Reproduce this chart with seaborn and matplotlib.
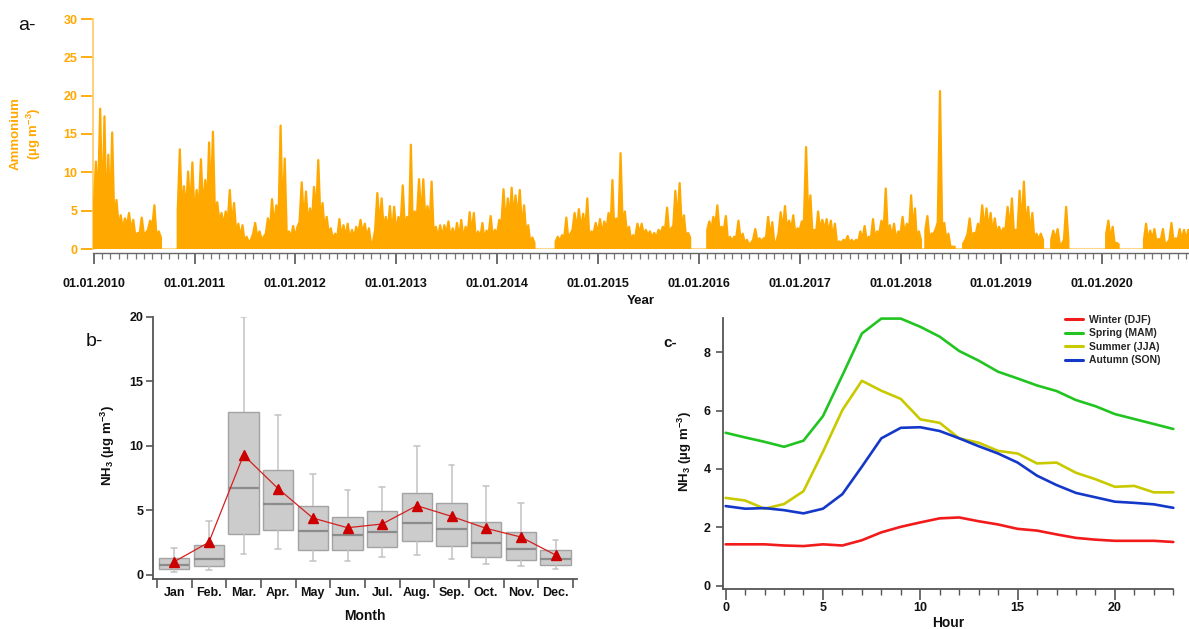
import numpy as np
import pandas as pd
import matplotlib
matplotlib.use("Agg")
import matplotlib.pyplot as plt
import matplotlib.dates as mdates
from matplotlib.ticker import MultipleLocator, FixedLocator, NullFormatter, FixedFormatter
from matplotlib.lines import Line2D
import seaborn as sns

sns.set_theme(style="ticks")
plt.rcParams["font.family"] = ["Liberation Sans", "DejaVu Sans"]
plt.rcParams["mathtext.fontset"] = "custom"
plt.rcParams["mathtext.rm"] = "Liberation Sans:bold"
plt.rcParams["mathtext.it"] = "Liberation Sans:bold"
plt.rcParams["mathtext.bf"] = "Liberation Sans:bold"
plt.rcParams["mathtext.default"] = "rm"

nan = np.nan

# ---------------- (a) ammonium, half-month windows (1st-15th, 16th-end) ----------------
# peak = highest value in the window, band = top of the dense part of the record
years = list(range(2010, 2021))
peak_2010 = [11.4, 18.3, 17.3, 12.3, 15.2, 6.4, 4.4, 4.0, 4.7, 3.8, 2.1, 4.1,
             2.1, 3.7, 5.7, 2.3, nan, nan, nan, nan, 13.0, 8.2, 10.1, 11.3]
band_2010 = [5.5, 6, 4, 3, 4.5, 3.5, 3, 2.5, 3, 2.5, 1.5, 2,
             2, 2.5, 3, 1.5, nan, nan, nan, nan, 5, 5, 5, 5]
peak_2011 = [7.7, 11.7, 9.0, 13.9, 15.3, 6.1, 4.7, 4.9, 7.7, 6.0, 3.3, 3.1,
             1.6, 1.2, 3.4, 2.3, 1.6, 4.0, 6.5, 5.7, 16.1, 11.8, 2.3, 3.0]
band_2011 = [4, 5, 5, 6, 6, 4, 3.5, 3, 3.5, 3, 2, 1.5,
             1, 0.9, 2, 1.5, 1.2, 2, 2.5, 3, 4, 3.5, 1.5, 1.5]
peak_2012 = [2.9, 8.7, 7.5, 5.3, 8.1, 11.6, 6.0, 4.2, 2.7, 2.0, 3.9, 3.1,
             3.3, 2.5, 2.9, 3.8, 3.3, 2.7, 1.0, 7.3, 6.6, 4.2, 5.6, 5.5]
band_2012 = [1.5, 3.5, 3.5, 3, 3.5, 4.5, 3.5, 2.5, 2, 1.2, 1.5, 1.5,
             1.5, 1.2, 1.5, 2, 2, 1.5, 0.6, 2.5, 3, 2.5, 2.5, 2]
peak_2013 = [4.2, 8.3, 4.2, 13.6, 4.9, 9.1, 9.1, 5.6, 8.8, 2.9, 3.1, 3.1,
             3.6, 2.7, 3.4, 3.8, 2.9, 4.8, 4.7, 2.3, 3.4, 2.4, 4.3, 2.5]
band_2013 = [2, 3, 2.5, 3.5, 3, 4, 4, 3.5, 3, 2, 1.5, 1.5,
             2, 1.5, 1.5, 1.5, 1.2, 2, 2, 1.2, 1.5, 1.2, 2, 1.5]
peak_2014 = [3.8, 7.8, 6.6, 8.0, 7.0, 7.7, 5.7, 3.1, 1.5, nan, nan, nan,
             nan, nan, 1.6, 1.8, 4.1, 2.0, 4.7, 5.2, 4.6, 6.6, 2.3, 3.4]
band_2014 = [2, 3, 3, 4, 4, 4, 2.5, 2, 0.8, nan, nan, nan,
             nan, nan, 1, 1, 1.5, 1.2, 2.5, 2.5, 2.5, 2.5, 1.2, 2]
peak_2015 = [3.9, 3.6, 4.7, 9.0, 4.0, 12.5, 4.9, 2.9, 1.8, 3.3, 3.3, 2.5,
             2.3, 2.1, 2.5, 2.9, 5.4, 2.7, 7.6, 8.6, 4.4, 2.1, nan, nan]
band_2015 = [2, 2, 2.5, 3, 2.5, 3, 2.5, 2, 1.2, 1.5, 2, 1.8,
             1.8, 1.5, 1.5, 2, 2.5, 2, 3, 3.5, 2.5, 1.5, nan, nan]
peak_2016 = [nan, nan, 3.6, 4.2, 5.7, 2.9, 4.3, 1.6, 1.6, 3.7, 2.0, 1.2,
             0.8, 2.6, 1.4, 1.4, 4.2, 3.5, 1.0, 4.8, 5.6, 3.7, 4.4, 2.7]
band_2016 = [nan, nan, 2.5, 2.5, 3, 2.5, 2.5, 1, 1, 1.5, 1.2, 0.8,
             0.6, 1.2, 1, 1, 1.5, 1.5, 0.7, 2, 2.5, 2.5, 2.5, 2]
peak_2017 = [3.6, 13.3, 7.0, 2.5, 4.9, 3.8, 3.9, 3.7, 3.3, 1.0, 1.2, 1.7,
             1.2, 1.2, 2.3, 3.0, 1.6, 3.9, 2.3, 3.7, 7.9, 3.1, 3.3, 2.3]
band_2017 = [2.5, 3.5, 3.5, 2, 2, 2.5, 2.5, 2, 1.5, 0.7, 0.8, 1,
             0.8, 0.8, 1, 1.2, 1, 1.5, 1.2, 2, 2.5, 2, 1.5, 1.2]
peak_2018 = [4.2, 3.3, 7.0, 5.3, 2.3, nan, 4.3, 2.0, 2.6, 20.6, 3.4, 2.0,
             0.3, nan, nan, 1.2, 4.0, 2.1, 3.3, 5.7, 5.3, 4.7, 4.0, 2.9]
band_2018 = [2, 2, 2.5, 2, 1.2, nan, 2.5, 1.2, 2, 3.5, 2.5, 1.2,
             0.3, nan, nan, 0.7, 2, 1.5, 2, 2.5, 2.5, 2.5, 2, 2]
peak_2019 = [2.7, 5.5, 6.6, 2.5, 7.6, 8.8, 5.5, 4.7, 2.0, 2.0, nan, nan,
             2.4, 2.6, 0.7, 5.5, nan, nan, nan, nan, nan, nan, nan, nan]
band_2019 = [2, 2.5, 2.5, 2, 2.5, 3, 2.5, 2, 1.2, 1.2, nan, nan,
             1.2, 1.2, 0.5, 1.2, nan, nan, nan, nan, nan, nan, nan, nan]
peak_2020 = [nan, 3.7, 2.9, 0.8, nan, nan, nan, nan, nan, nan, 3.3, 2.4,
             2.6, 1.3, 2.6, 0.8, 3.4, 1.4, 2.6, 2.5, 2.5, nan, nan, nan]
band_2020 = [nan, 2, 1.2, 0.6, nan, nan, nan, nan, nan, nan, 1.2, 1,
             1.2, 1, 1.2, 0.7, 1.2, 1, 1.2, 1.2, 1.2, nan, nan, nan]

peaks = [peak_2010, peak_2011, peak_2012, peak_2013, peak_2014, peak_2015,
         peak_2016, peak_2017, peak_2018, peak_2019, peak_2020]
bands = [band_2010, band_2011, band_2012, band_2013, band_2014, band_2015,
         band_2016, band_2017, band_2018, band_2019, band_2020]

# ---------------- (b) monthly NH3 box statistics ----------------
months = ["Jan", "Feb.", "Mar.", "Apr.", "May", "Jun.",
          "Jul.", "Aug.", "Sep.", "Oct.", "Nov.", "Dec."]
whisker_low = [0.20, 0.39, 1.63, 2.04, 1.08, 1.08, 1.42, 1.52, 1.24, 0.85, 0.72, 0.44]
quart_1 = [0.44, 0.70, 3.15, 3.48, 1.96, 1.96, 2.14, 2.66, 2.27, 1.39, 1.14, 0.75]
median = [0.77, 1.24, 6.74, 5.50, 3.38, 3.12, 3.30, 4.05, 3.56, 2.50, 1.99, 1.24]
quart_3 = [1.29, 2.32, 12.65, 8.13, 5.37, 4.52, 4.95, 6.32, 5.55, 4.08, 3.33, 1.91]
whisker_high = [2.06, 4.18, 20.0, 12.41, 7.85, 6.58, 6.84, 10.01, 8.54, 6.89, 5.60, 2.71]
monthly_mean = [1.03, 2.53, 9.29, 6.68, 4.41, 3.66, 3.95, 5.37, 4.54, 3.61, 2.94, 1.55]

# ---------------- (c) diurnal NH3 cycle per season ----------------
hours = list(range(24))
winter = [1.42, 1.42, 1.42, 1.38, 1.36, 1.42, 1.38, 1.56, 1.83, 2.02, 2.17, 2.31,
          2.34, 2.21, 2.10, 1.95, 1.89, 1.76, 1.64, 1.58, 1.54, 1.54, 1.54, 1.50]
spring = [5.24, 5.08, 4.93, 4.76, 4.97, 5.81, 7.21, 8.64, 9.15, 9.15, 8.87, 8.53,
          8.04, 7.71, 7.33, 7.10, 6.86, 6.67, 6.36, 6.15, 5.88, 5.71, 5.54, 5.37]
summer = [3.01, 2.92, 2.64, 2.80, 3.24, 4.59, 6.02, 7.02, 6.68, 6.40, 5.70, 5.58,
          5.05, 4.90, 4.62, 4.53, 4.19, 4.22, 3.87, 3.65, 3.39, 3.42, 3.20, 3.20]
autumn = [2.73, 2.64, 2.66, 2.59, 2.48, 2.64, 3.14, 4.08, 5.05, 5.41, 5.43, 5.30,
          5.05, 4.78, 4.53, 4.22, 3.77, 3.45, 3.18, 3.03, 2.88, 2.84, 2.79, 2.67]
season_names = ["Winter (DJF)", "Spring (MAM)", "Summer (JJA)", "Autumn (SON)"]
season_colors = ["#f21b1b", "#22c422", "#c9c900", "#1438c8"]

ORANGE = "#ffa800"
AXIS_GREY = "#555555"
W, H = 1189, 629

fig = plt.figure(figsize=(W / 100, H / 100), dpi=100)


def px_axes(left, top, right, bottom):
    return fig.add_axes([left / W, 1 - bottom / H, (right - left) / W, (bottom - top) / H])


def place_ylabel(ax, x, y):
    ax.yaxis.set_label_coords(x, y)
    ax.yaxis.label.set_va("center")
    ax.yaxis.label.set_ha("center")


def place_xlabel(ax, x, y):
    ax.xaxis.set_label_coords(x, y)
    ax.xaxis.label.set_va("center")


# ======================= panel a =======================
ax_a = px_axes(93, 19, 1189, 249)

win_start, win_end, win_peak, win_band = [], [], [], []
for year, pk, bd in zip(years, peaks, bands):
    for k in range(24):
        m = k // 2 + 1
        if k % 2 == 0:
            s = pd.Timestamp(year, m, 1)
            e = pd.Timestamp(year, m, 16)
        else:
            s = pd.Timestamp(year, m, 16)
            e = pd.Timestamp(year, m, 1) + pd.offsets.MonthBegin(1)
        win_start.append(s)
        win_end.append(e)
        win_peak.append(pk[k])
        win_band.append(bd[k])

t, v = [], []
n = len(win_peak)
for i in range(n):
    s, e = mdates.date2num(win_start[i]), mdates.date2num(win_end[i])
    if np.isnan(win_peak[i]):
        t.append(s)
        v.append(nan)
        continue
    if i == 0 or np.isnan(win_peak[i - 1]):
        t.append(s)
        v.append(0.0)
    t.append(s)
    v.append(win_band[i])
    t.append((s + e) / 2)
    v.append(win_peak[i])
    if i == n - 1 or np.isnan(win_peak[i + 1]):
        t.append(e)
        v.append(win_band[i])
        t.append(e)
        v.append(0.0)
t = np.array(t)
v = np.array(v, dtype=float)

ax_a.axhline(0, color="#ffd68a", lw=2.2, zorder=1)
ax_a.fill_between(t, 0, v, color=ORANGE, lw=0, zorder=2)
ax_a.plot(t, v, color=ORANGE, lw=1.6, zorder=3)

ax_a.set_ylim(0, 30)
ax_a.set_xlim(mdates.date2num(pd.Timestamp(2009, 12, 29)),
              mdates.date2num(pd.Timestamp(2020, 11, 11)))
ax_a.yaxis.set_major_locator(MultipleLocator(5))
ax_a.xaxis.set_major_locator(mdates.YearLocator())
ax_a.xaxis.set_major_formatter(mdates.DateFormatter("%d.%m.%Y"))
ax_a.xaxis.set_minor_locator(mdates.MonthLocator())
for side in ["top", "right"]:
    ax_a.spines[side].set_visible(False)
ax_a.spines["left"].set_color("#ffcf70")
ax_a.spines["left"].set_linewidth(1.3)
ax_a.spines["bottom"].set_position(("outward", 3))
ax_a.spines["bottom"].set_color("#666666")
ax_a.spines["bottom"].set_linewidth(1.0)
ax_a.tick_params(axis="y", colors=ORANGE, length=9, width=1.3, pad=2, labelsize=9)
ax_a.tick_params(axis="x", which="major", colors="#555555", length=8, width=1.2, pad=10,
                 labelsize=9, labelcolor="#111111")
ax_a.tick_params(axis="x", which="minor", colors="#777777", length=4.5, width=0.9)
for lab in ax_a.get_xticklabels() + ax_a.get_yticklabels():
    lab.set_fontweight("bold")
ax_a.set_ylabel("Ammonium\n(µg m$^{-3}$)", color=ORANGE, fontsize=9.5, fontweight="bold",
                linespacing=1.25)
place_ylabel(ax_a, (26 - 93) / 1096, 0.5)
ax_a.set_xlabel("Year", fontsize=9.5, fontweight="bold", color="#111111")
place_xlabel(ax_a, 0.5, (249 - 301) / 230)
fig.text(27 / W, 1 - 26 / H, "a-", fontsize=14, ha="center", va="center", color="#111111")

# ======================= panel b =======================
ax_b = px_axes(152.7, 316.7, 577, 579)

box_df = pd.DataFrame({
    "month": np.repeat(months, 5),
    "nh3": np.column_stack([whisker_low, quart_1, median, quart_3, whisker_high]).ravel(),
})
sns.boxplot(data=box_df, x="month", y="nh3", order=months, ax=ax_b, whis=(0, 100),
            width=0.88, color="#cccccc", linecolor="#a3a3a3", linewidth=1.0,
            capwidths=0.17,
            medianprops={"color": "#8c8c8c", "linewidth": 1.6},
            whiskerprops={"color": "#c2c2c2", "linewidth": 1.1},
            capprops={"color": "#c2c2c2", "linewidth": 1.1})
ax_b.plot(np.arange(len(months)), monthly_mean, color="#d41f1f", lw=0.9, marker="^",
          markersize=7.5, markerfacecolor="#cc0000", markeredgecolor="#cc0000", zorder=5)

ax_b.set_xlim(-0.62, 11.62)
ax_b.set_ylim(-0.31, 20)
ax_b.yaxis.set_major_locator(FixedLocator([0, 5, 10, 15, 20]))
ax_b.xaxis.set_major_locator(FixedLocator(np.arange(13) - 0.5))
ax_b.xaxis.set_major_formatter(NullFormatter())
ax_b.xaxis.set_minor_locator(FixedLocator(np.arange(12)))
ax_b.xaxis.set_minor_formatter(FixedFormatter(months))
ax_b.tick_params(axis="x", which="major", length=6.5, width=1.2, color=AXIS_GREY)
ax_b.tick_params(axis="x", which="minor", length=0, pad=6, labelsize=9)
ax_b.tick_params(axis="y", length=5, width=1.2, color=AXIS_GREY, pad=1.5, labelsize=9)
for side in ["top", "right"]:
    ax_b.spines[side].set_visible(False)
for side in ["left", "bottom"]:
    ax_b.spines[side].set_color(AXIS_GREY)
    ax_b.spines[side].set_linewidth(1.3)
for lab in ax_b.get_xticklabels(which="minor") + ax_b.get_yticklabels():
    lab.set_fontweight("bold")
    lab.set_color("#111111")
ax_b.set_xlabel("Month", fontsize=10, fontweight="bold", color="#111111")
place_xlabel(ax_b, 0.5, (579 - 616) / 262.3)
ax_b.set_ylabel("NH$_3$ (µg m$^{-3}$)", fontsize=9.5, fontweight="bold", color="#111111")
place_ylabel(ax_b, (108 - 152.7) / 424.3, 0.507)
fig.text(94 / W, 1 - 342 / H, "b-", fontsize=14, ha="center", va="center", color="#111111")

# ======================= panel c =======================
ax_c = px_axes(723.3, 318.3, 1173.3, 589.3)

diurnal = pd.DataFrame({
    "hour": np.tile(hours, 4),
    "nh3": np.concatenate([winter, spring, summer, autumn]),
    "season": np.repeat(season_names, 24),
})
sns.lineplot(data=diurnal, x="hour", y="nh3", hue="season", hue_order=season_names,
             palette=dict(zip(season_names, season_colors)), lw=1.9, ax=ax_c,
             legend=False, clip_on=False)

ax_c.set_xlim(-0.12, 23)
ax_c.set_ylim(-0.12, 9.16)
ax_c.xaxis.set_major_locator(MultipleLocator(5))
ax_c.xaxis.set_minor_locator(MultipleLocator(1))
ax_c.yaxis.set_major_locator(FixedLocator([0, 2, 4, 6, 8]))
ax_c.tick_params(axis="x", which="major", length=8, width=1.2, color=AXIS_GREY, pad=1.5,
                 labelsize=9)
ax_c.tick_params(axis="x", which="minor", length=4.5, width=1.0, color=AXIS_GREY)
ax_c.tick_params(axis="y", length=5, width=1.2, color=AXIS_GREY, pad=4, labelsize=9)
for side in ["top", "right"]:
    ax_c.spines[side].set_visible(False)
for side in ["left", "bottom"]:
    ax_c.spines[side].set_color(AXIS_GREY)
    ax_c.spines[side].set_linewidth(1.3)
for lab in ax_c.get_xticklabels() + ax_c.get_yticklabels():
    lab.set_fontweight("bold")
    lab.set_color("#111111")
ax_c.set_xlabel("Hour", fontsize=10, fontweight="bold", color="#111111")
place_xlabel(ax_c, 0.5, (589.3 - 623) / 271)
ax_c.set_ylabel("NH$_3$ (µg m$^{-3}$)", fontsize=9.5, fontweight="bold", color="#111111")
place_ylabel(ax_c, (685 - 723.3) / 450, 0.51)

handles = [Line2D([], [], color=c, lw=2.2) for c in season_colors]
fig.legend(handles, season_names, loc="upper left",
           bbox_to_anchor=(1065 / W, 1 - 315 / H), frameon=False,
           prop={"weight": "bold", "size": 7.5}, handlelength=1.75, handletextpad=0.6,
           labelspacing=0.33, borderpad=0, borderaxespad=0)
fig.text(670 / W, 1 - 343 / H, "c-", fontsize=11, fontweight="bold", ha="center",
         va="center", color="#111111")

fig.savefig("out.png", dpi=100)
